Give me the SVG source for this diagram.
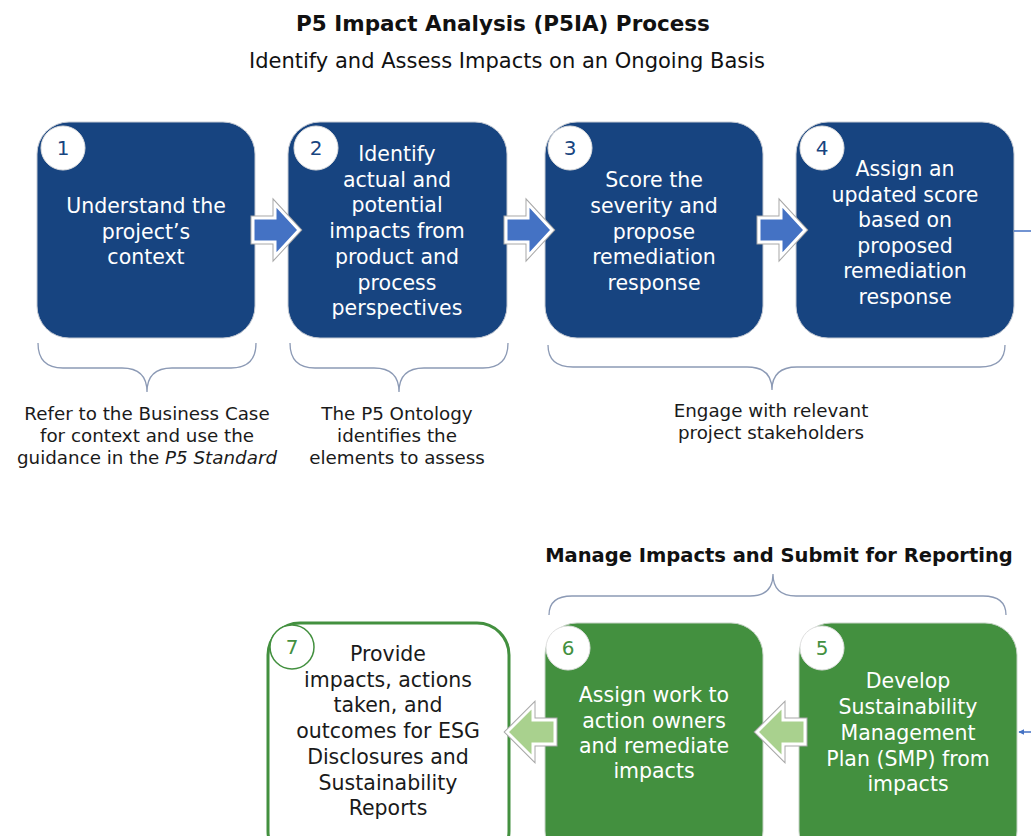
<svg xmlns="http://www.w3.org/2000/svg" width="1031" height="836" viewBox="0 0 1031 836">
<defs>
<style>
.t{font-family:"DejaVu Sans","Open Sans",sans-serif}
.title{font-size:21.5px;font-weight:bold;fill:#111;text-anchor:middle}
.sub{font-size:21px;fill:#111;text-anchor:middle}
.hdr{font-size:19.5px;font-weight:bold;fill:#111;text-anchor:middle}
.bt{font-size:20.5px;fill:#fff;text-anchor:middle}
.bt7{font-size:20.5px;fill:#1a1a1a;text-anchor:middle}
.cap{font-size:18.3px;fill:#1a1a1a;text-anchor:middle}
.num{font-size:20px;text-anchor:middle}
.blue{fill:#174480;stroke:#c5cad3;stroke-width:1}
.green{fill:#43903f;stroke:#c5d3c5;stroke-width:1}
.white7{fill:#fff;stroke:#43903f;stroke-width:3}
.circ{fill:#fff;stroke:#e0e0e0;stroke-width:1}
.circ7{fill:#fff;stroke:#43903f;stroke-width:1.5}
.brace{fill:none;stroke:#8c9ab5;stroke-width:1.3}
.conn{fill:none;stroke:#4472c4;stroke-width:1.5}
.arrOut{stroke:#a8a8a8;stroke-width:5;stroke-linejoin:miter}
.arrIn{stroke:#fff;stroke-width:3;stroke-linejoin:miter}
</style>
<polygon id="arR" points="0,-12 22,-12 22,-26 46,0 22,26 22,12 0,12"/>
<polygon id="arL" points="0,-12 -22,-12 -22,-26 -48,0 -22,26 -22,12 0,12"/>
<marker id="mk" viewBox="0 0 10 10" refX="9" refY="5" markerWidth="6" markerHeight="6" orient="auto" markerUnits="userSpaceOnUse">
<path d="M0,0 L10,5 L0,10 z" fill="#4472c4"/>
</marker>
</defs>
<rect width="1031" height="836" fill="#fff"/>

<text class="t title" x="503" y="31">P5 Impact Analysis (P5IA) Process</text>
<text class="t sub" x="507" y="68">Identify and Assess Impacts on an Ongoing Basis</text>
<text class="t hdr" x="779" y="562">Manage Impacts and Submit for Reporting</text>

<g id="braces">
<path class="brace" d="M38,343 Q38,368 63,368 H122 Q147,368 147,392 Q147,368 172,368 H231 Q256,368 256,343"/>
<path class="brace" d="M290,343 Q290,368 315,368 H374 Q399,368 399,392 Q399,368 424,368 H483 Q508,368 508,343"/>
<path class="brace" d="M548,345 Q548,367 573,367 H747 Q772,367 772,390 Q772,367 797,367 H980 Q1005,367 1005,345"/>
<path class="brace" d="M549,615 Q549,596 572,596 H750 Q773,596 773,574 Q773,596 796,596 H983 Q1006,596 1006,615"/>
</g>

<g id="node1">
<rect class="blue" x="37" y="122" width="218" height="216" rx="32"/>
<circle class="circ" cx="63" cy="148" r="22"/>
<text class="t num" x="63" y="155" fill="#174480">1</text>
<text class="t bt"><tspan x="146" y="213">Understand the</tspan><tspan x="146" y="239">project’s</tspan><tspan x="146" y="264">context</tspan></text>
</g>
<g id="node2">
<rect class="blue" x="288" y="122" width="219" height="216" rx="32"/>
<circle class="circ" cx="316" cy="148" r="22"/>
<text class="t num" x="316" y="155" fill="#174480">2</text>
<text class="t bt"><tspan x="397" y="161">Identify</tspan><tspan x="397" y="186.7">actual and</tspan><tspan x="397" y="212.4">potential</tspan><tspan x="397" y="238.1">impacts from</tspan><tspan x="397" y="263.8">product and</tspan><tspan x="397" y="289.5">process</tspan><tspan x="397" y="315.2">perspectives</tspan></text>
</g>
<g id="node3">
<rect class="blue" x="545" y="122" width="218" height="216" rx="32"/>
<circle class="circ" cx="570" cy="148" r="22"/>
<text class="t num" x="570" y="155" fill="#174480">3</text>
<text class="t bt"><tspan x="654" y="187">Score the</tspan><tspan x="654" y="212.75">severity and</tspan><tspan x="654" y="238.5">propose</tspan><tspan x="654" y="264.25">remediation</tspan><tspan x="654" y="290">response</tspan></text>
</g>
<g id="node4">
<rect class="blue" x="796" y="122" width="218" height="216" rx="32"/>
<circle class="circ" cx="822" cy="148" r="22"/>
<text class="t num" x="822" y="155" fill="#174480">4</text>
<text class="t bt"><tspan x="905" y="176">Assign an</tspan><tspan x="905" y="201.5">updated score</tspan><tspan x="905" y="227">based on</tspan><tspan x="905" y="252.5">proposed</tspan><tspan x="905" y="278">remediation</tspan><tspan x="905" y="303.5">response</tspan></text>
</g>

<g id="cap1">
<text class="t cap"><tspan x="147" y="420">Refer to the Business Case</tspan><tspan x="147" y="442">for context and use the</tspan><tspan x="147" y="464">guidance in the <tspan font-style="italic">P5 Standard</tspan></tspan></text>
</g>
<g id="cap2">
<text class="t cap"><tspan x="397" y="420">The P5 Ontology</tspan><tspan x="397" y="442">identifies the</tspan><tspan x="397" y="464">elements to assess</tspan></text>
</g>
<g id="cap3">
<text class="t cap"><tspan x="771" y="417">Engage with relevant</tspan><tspan x="771" y="439">project stakeholders</tspan></text>
</g>

<g id="node5">
<rect class="green" x="799" y="623" width="218" height="240" rx="32"/>
<circle class="circ" cx="822" cy="648" r="22"/>
<text class="t num" x="822" y="655" fill="#43903f">5</text>
<text class="t bt"><tspan x="908" y="688">Develop</tspan><tspan x="908" y="714">Sustainability</tspan><tspan x="908" y="740">Management</tspan><tspan x="908" y="765.5">Plan (SMP) from</tspan><tspan x="908" y="791">impacts</tspan></text>
</g>
<g id="node6">
<rect class="green" x="545" y="623" width="218" height="240" rx="32"/>
<circle class="circ" cx="568" cy="648" r="22"/>
<text class="t num" x="568" y="655" fill="#43903f">6</text>
<text class="t bt"><tspan x="654" y="702">Assign work to</tspan><tspan x="654" y="727.5">action owners</tspan><tspan x="654" y="753">and remediate</tspan><tspan x="654" y="778">impacts</tspan></text>
</g>
<g id="node7">
<rect class="white7" x="268" y="623" width="241" height="240" rx="32"/>
<circle class="circ7" cx="292" cy="647" r="22"/>
<text class="t num" x="292" y="654" fill="#43903f">7</text>
<text class="t bt7"><tspan x="388" y="661">Provide</tspan><tspan x="388" y="686.7">impacts, actions</tspan><tspan x="388" y="712.4">taken, and</tspan><tspan x="388" y="738.1">outcomes for ESG</tspan><tspan x="388" y="763.8">Disclosures and</tspan><tspan x="388" y="789.5">Sustainability</tspan><tspan x="388" y="815">Reports</tspan></text>
</g>

<g id="connectors">
<path class="conn" d="M1014,231 H1045 V732 H1019" marker-end="url(#mk)"/>
<g fill="#4472c4">
<use href="#arR" x="253" y="230" class="arrOut"/><use href="#arR" x="253" y="230" class="arrIn"/>
<use href="#arR" x="506" y="230" class="arrOut"/><use href="#arR" x="506" y="230" class="arrIn"/>
<use href="#arR" x="759" y="230" class="arrOut"/><use href="#arR" x="759" y="230" class="arrIn"/>
</g>
<g fill="#a9d18e">
<use href="#arL" x="805" y="732" class="arrOut"/><use href="#arL" x="805" y="732" class="arrIn"/>
<use href="#arL" x="555" y="732" class="arrOut"/><use href="#arL" x="555" y="732" class="arrIn"/>
</g>
</g>
</svg>
